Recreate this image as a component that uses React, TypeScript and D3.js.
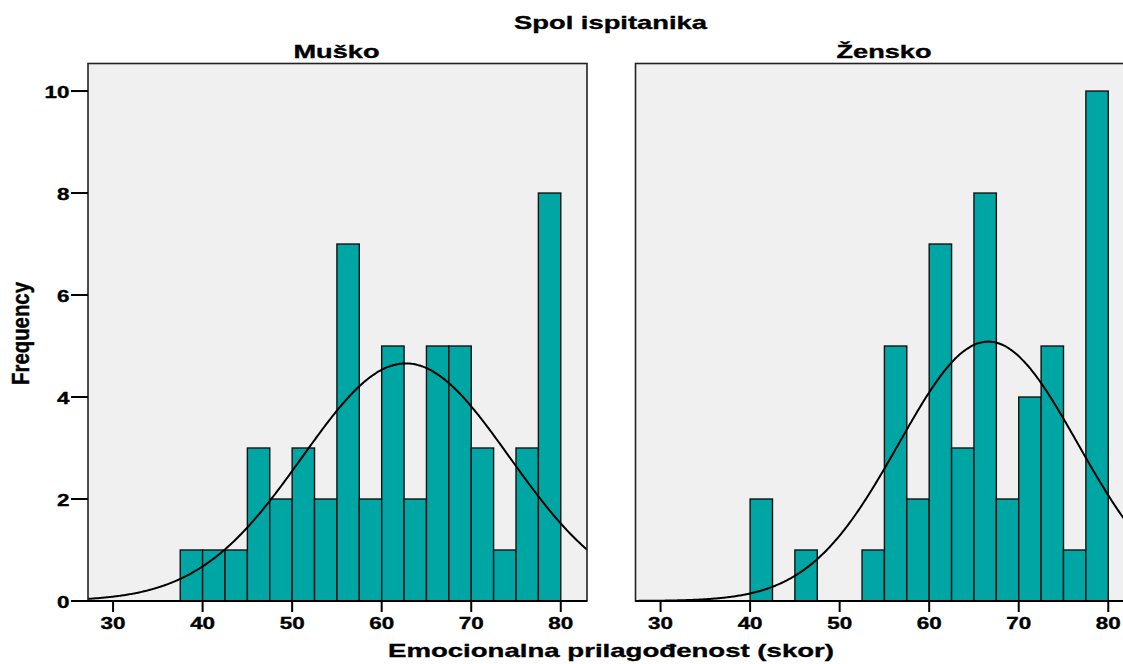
import React, { useEffect, useRef } from 'react';
import * as d3 from 'd3';

// histogram bins (lower edges), bin width 2.5
const binStarts = [37.5, 40, 42.5, 45, 47.5, 50, 52.5, 55, 57.5, 60, 62.5, 65, 67.5, 70, 72.5, 75, 77.5];
const binWidth = 2.5;
const muskoCounts = [1, 1, 1, 3, 2, 3, 2, 7, 2, 5, 2, 5, 5, 3, 1, 3, 8];
const zenskoCounts = [0, 2, 0, 1, 0, 0, 1, 5, 2, 7, 3, 8, 2, 4, 5, 1, 10];

// normal curve parameters per panel
const panelNames = ['Muško', 'Žensko'];
const curveMeans = [62.7, 66.6];
const curveSds = [11.56, 10.0];

const xTicks = [30, 40, 50, 60, 70, 80];
const yTicks = [0, 2, 4, 6, 8, 10];

const STRETCH = 1.4; // the original chart is stretched horizontally
const FONT = '"Liberation Sans", Arial, sans-serif';
const TICK_FONT = 16;

const App: React.FC = () => {
    const svgRef = useRef<SVGSVGElement>(null);

    useEffect(() => {
        if (!svgRef.current) return;
        const svg = d3.select(svgRef.current);
        svg.selectAll('*').remove();

        const W = 1123, H = 664;
        const panelW = 499;
        const top = 63.5, bottom = 601;
        const panelLefts = [88, 635.5];
        const countsList = [muskoCounts, zenskoCounts];

        const y = d3.scaleLinear().domain([0, 10.54]).range([bottom, top]);

        const boldText = (sel: any, size: number) =>
            sel.style('font-family', FONT).style('font-weight', 'bold').style('font-size', `${size}px`)
                .attr('stroke', '#000').attr('stroke-width', 0.35).attr('fill', '#000');

        // overall title
        boldText(svg.append('text')
            .attr('x', 610.5 - 193 / 2).attr('y', 29)
            .attr('textLength', 193).attr('lengthAdjust', 'spacingAndGlyphs'), 19)
            .text('Spol ispitanika');

        panelLefts.forEach((left, pi) => {
            const x = d3.scaleLinear().domain([27.2, 82.93]).range([left, left + panelW]);
            const counts = countsList[pi];
            const g = svg.append('g');

            const clipId = `clip-${pi}`;
            svg.append('clipPath').attr('id', clipId)
                .append('rect').attr('x', left).attr('y', top).attr('width', panelW).attr('height', bottom - top);

            g.append('rect')
                .attr('x', left).attr('y', top).attr('width', panelW).attr('height', bottom - top)
                .attr('fill', '#f0f0f0');

            // bars
            g.selectAll('rect.bar')
                .data(binStarts.map((s, i) => ({ s, c: counts[i] })).filter(d => d.c > 0))
                .enter()
                .append('rect')
                .attr('class', 'bar')
                .attr('x', d => x(d.s))
                .attr('y', d => y(d.c))
                .attr('width', d => x(d.s + binWidth) - x(d.s))
                .attr('height', d => y(0) - y(d.c))
                .attr('fill', '#00a6a3')
                .attr('stroke', '#111')
                .attr('stroke-width', 1.4);

            // normal curve
            const n = d3.sum(counts);
            const mu = curveMeans[pi], sd = curveSds[pi];
            const xs = d3.range(0, 401).map(i => 27.2 + (82.93 - 27.2) * i / 400);
            const line = d3.line<number>()
                .x(v => x(v))
                .y(v => y(n * binWidth * Math.exp(-0.5 * ((v - mu) / sd) ** 2) / (sd * Math.sqrt(2 * Math.PI))))
                .curve(d3.curveBasis);
            g.append('path')
                .attr('d', line(xs))
                .attr('fill', 'none')
                .attr('stroke', '#000')
                .attr('stroke-width', 2)
                .attr('clip-path', `url(#${clipId})`);

            // frame
            g.append('rect')
                .attr('x', left).attr('y', top).attr('width', panelW).attr('height', bottom - top)
                .attr('fill', 'none').attr('stroke', '#222').attr('stroke-width', 1.6);
            g.append('line')
                .attr('x1', left).attr('x2', left + panelW).attr('y1', bottom).attr('y2', bottom)
                .attr('stroke', '#000').attr('stroke-width', 2.2);

            // x ticks
            xTicks.forEach(t => {
                g.append('line')
                    .attr('x1', x(t)).attr('x2', x(t)).attr('y1', bottom).attr('y2', bottom + 11)
                    .attr('stroke', '#000').attr('stroke-width', 2);
                const label = String(t);
                const tl = label.length * 0.556 * TICK_FONT * STRETCH;
                boldText(g.append('text')
                    .attr('x', x(t) - tl / 2).attr('y', 628.5)
                    .attr('textLength', tl).attr('lengthAdjust', 'spacingAndGlyphs'), TICK_FONT)
                    .text(label);
            });

            // panel title
            const tw = pi === 0 ? 86 : 95;
            boldText(g.append('text')
                .attr('x', left + panelW / 2 - tw / 2 - 1).attr('y', 57.5)
                .attr('textLength', tw).attr('lengthAdjust', 'spacingAndGlyphs'), 18.2)
                .text(panelNames[pi]);

            // y axis only on first panel
            if (pi === 0) {
                yTicks.forEach(t => {
                    g.append('line')
                        .attr('x1', 71).attr('x2', left).attr('y1', y(t)).attr('y2', y(t))
                        .attr('stroke', '#000').attr('stroke-width', 2);
                    const label = String(t);
                    const tl = label.length * 0.556 * TICK_FONT * STRETCH;
                    boldText(g.append('text')
                        .attr('x', 69.5 - tl).attr('y', y(t) + 6.5)
                        .attr('textLength', tl).attr('lengthAdjust', 'spacingAndGlyphs'), TICK_FONT)
                        .text(label);
                });
            }
        });

        // x axis title
        boldText(svg.append('text')
            .attr('x', 611 - 446 / 2).attr('y', 657)
            .attr('textLength', 446).attr('lengthAdjust', 'spacingAndGlyphs'), 19)
            .text('Emocionalna prilagođenost (skor)');

        // y axis title (rotated)
        boldText(svg.append('g')
            .attr('transform', `translate(29,333.5) scale(1.25,1) rotate(-90)`)
            .append('text')
            .attr('x', -103 / 2).attr('y', 0)
            .attr('textLength', 103).attr('lengthAdjust', 'spacingAndGlyphs'), 19)
            .text('Frequency');

        svg.attr('width', W).attr('height', H);
    }, []);

    return (
        <div style={{ position: 'absolute', left: 0, top: 0, background: '#fff' }}>
            <svg ref={svgRef} width={1123} height={664} style={{ display: 'block' }} />
        </div>
    );
};

export default App;
